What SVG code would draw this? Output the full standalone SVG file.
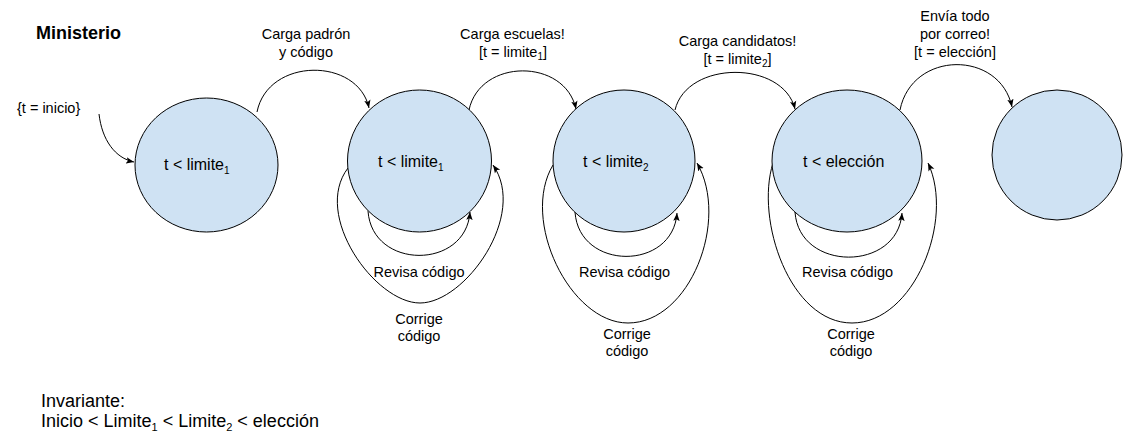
<svg xmlns="http://www.w3.org/2000/svg" width="1123" height="446" viewBox="0 0 1123 446">
<defs>
<marker id="arr" markerUnits="userSpaceOnUse" markerWidth="9" markerHeight="8" refX="8" refY="4" orient="auto">
<path d="M0,0.8 L8,4 L0,7.2 L1.8,4 Z" fill="#000"/>
</marker>
</defs>
<style>
text{font-family:"Liberation Sans",Arial,sans-serif;fill:#000}
.st{fill:#cfe2f3;stroke:#000;stroke-width:1}
.nt{font-size:16px}
.lb{font-size:14.5px;text-anchor:middle}
.big{font-size:18px}
.sub{font-size:10px}
.sub2{font-size:11px}
.e{fill:none;stroke:#000;stroke-width:1;marker-end:url(#arr)}
</style>
<rect width="1123" height="446" fill="#fff"/>
<text x="36" y="39" class="big" font-weight="bold">Ministerio</text>
<text x="17" y="113" font-size="14.5">{t = inicio}</text>

<g id="connectors">
<path class="e" d="M99 114 C102 140 115 158 134 162"/>
<path class="e" d="M257 112 C268 57 358 57 369 108"/>
<path class="e" d="M469 110 C480 58 565 58 576 109"/>
<path class="e" d="M675 110 C687 60 783 60 795 109"/>
<path class="e" d="M900 110 C912 50 1000 50 1012 107"/>
<path class="e" d="M368 211 C372 270 466 270 470 212"/>
<path class="e" d="M575 212 C579 271 673 271 677 213"/>
<path class="e" d="M795 212 C799 272 898 272 902 213"/>
<path class="e" d="M348 168 C312 215 375 303 420 303 C465 303 528 215 493 165"/>
<path class="e" d="M553 165 C520 220 570 323 628 323 C690 323 730 220 697 163"/>
<path class="e" d="M773 163 C755 220 790 323 852 323 C914 323 955 220 928 163"/>
</g>

<g id="n1">
<ellipse class="st" cx="206.5" cy="165" rx="71.5" ry="67"/>
<text x="164" y="170" class="nt">t &lt; limite<tspan class="sub" dy="4">1</tspan></text>
</g>
<g id="n2">
<ellipse class="st" cx="419.5" cy="161" rx="72" ry="71"/>
<text x="378" y="167" class="nt">t &lt; limite<tspan class="sub" dy="4">1</tspan></text>
</g>
<g id="n3">
<ellipse class="st" cx="624" cy="161" rx="71" ry="71"/>
<text x="583" y="167" class="nt">t &lt; limite<tspan class="sub" dy="4">2</tspan></text>
</g>
<g id="n4">
<ellipse class="st" cx="847" cy="161" rx="75" ry="71"/>
<text x="803" y="167" class="nt">t &lt; elección</text>
</g>
<g id="n5">
<ellipse class="st" cx="1057" cy="155" rx="65" ry="65"/>
</g>

<g id="labels">
<text x="306" y="39" class="lb">Carga padrón</text>
<text x="306" y="57" class="lb">y código</text>
<text x="512.5" y="39" class="lb">Carga escuelas!</text>
<text x="513" y="57" class="lb">[t = limite<tspan class="sub" dy="3">1</tspan><tspan dy="-3">]</tspan></text>
<text x="737.5" y="46" class="lb">Carga candidatos!</text>
<text x="737.5" y="64" class="lb">[t = limite<tspan class="sub" dy="3">2</tspan><tspan dy="-3">]</tspan></text>
<text x="955" y="21" class="lb">Envía todo</text>
<text x="955" y="39" class="lb">por correo!</text>
<text x="955" y="57" class="lb">[t = elección]</text>
<text x="419" y="277" class="lb">Revisa código</text>
<text x="624.5" y="277" class="lb">Revisa código</text>
<text x="847.5" y="277" class="lb">Revisa código</text>
<text x="419" y="324" class="lb">Corrige</text>
<text x="419" y="341" class="lb">código</text>
<text x="627" y="339" class="lb">Corrige</text>
<text x="627" y="356" class="lb">código</text>
<text x="851" y="339" class="lb">Corrige</text>
<text x="851" y="356" class="lb">código</text>
</g>

<text x="41" y="407" class="big">Invariante:</text>
<text x="41" y="427" class="big">Inicio &lt; Limite<tspan class="sub2" dy="4">1</tspan><tspan dy="-4"> &lt; Limite</tspan><tspan class="sub2" dy="4">2</tspan><tspan dy="-4"> &lt; elección</tspan></text>
</svg>
